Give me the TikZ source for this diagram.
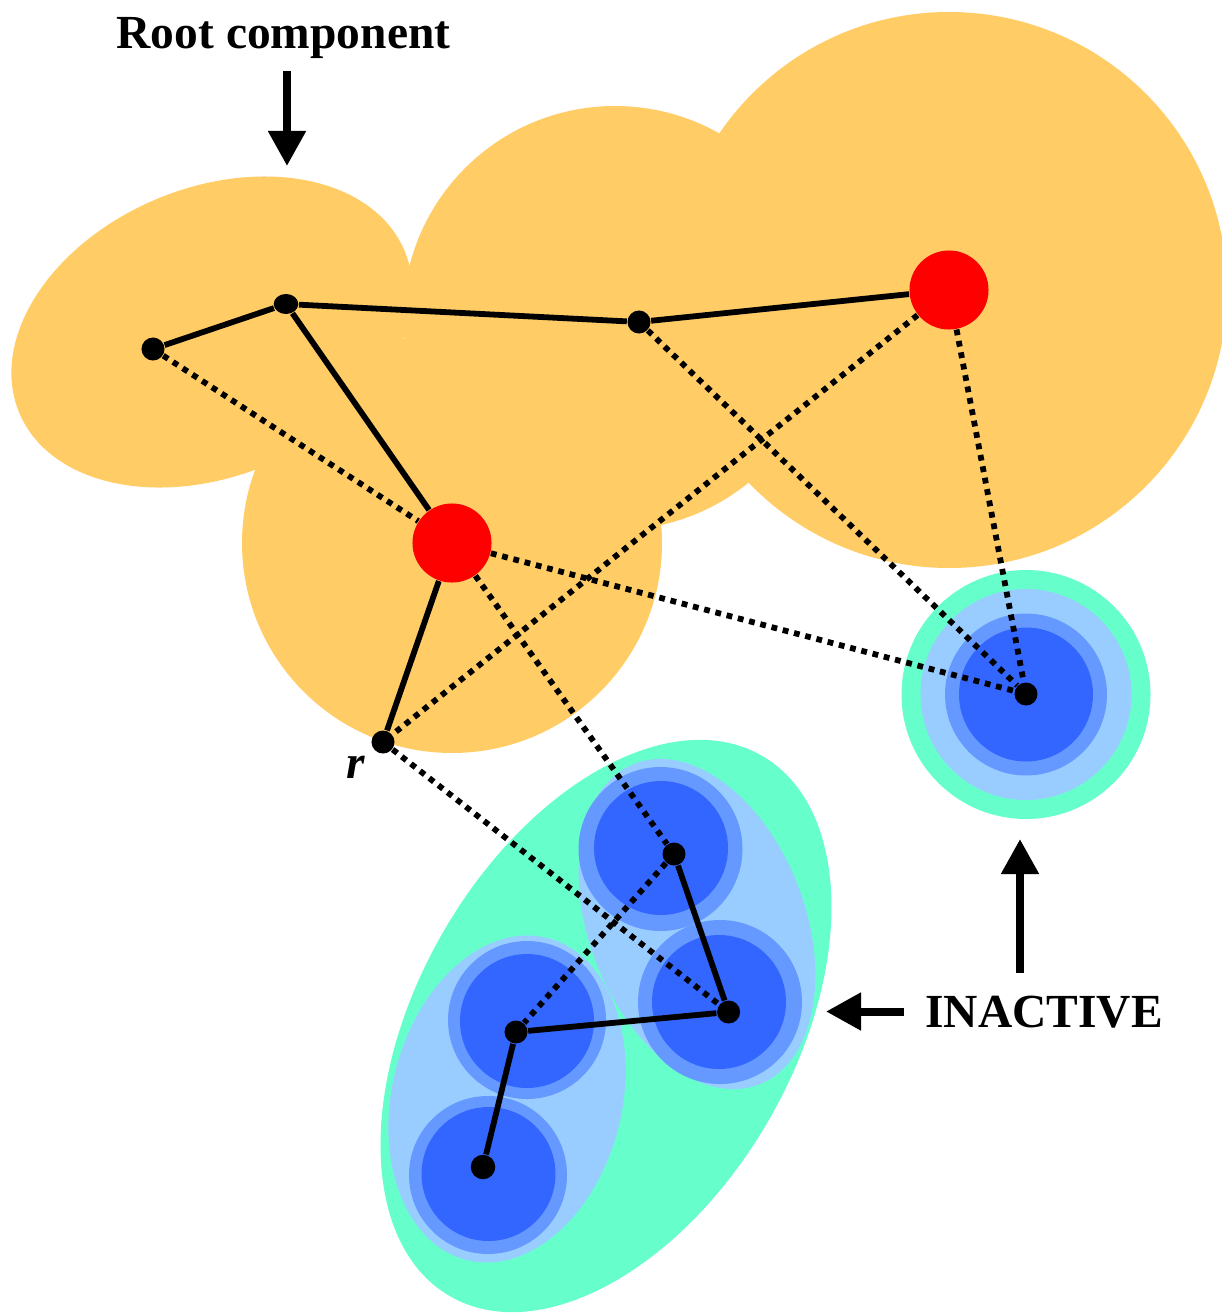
\documentclass[tikz,border=0pt]{standalone}
\usepackage{fontspec}
\setmainfont{Liberation Serif}
\usetikzlibrary{arrows.meta,shapes.geometric}
\definecolor{orangeC}{HTML}{FFCC66}
\definecolor{tealC}{HTML}{66FFCC}
\definecolor{lightB}{HTML}{99CCFF}
\definecolor{medB}{HTML}{6699FF}
\definecolor{darkB}{HTML}{3366FF}
\pgfdeclarelayer{bg}
\pgfdeclarelayer{edges}
\pgfsetlayers{bg,edges,main}
\begin{document}
\begin{tikzpicture}[x=0.01cm,y=0.01cm,
  dot/.style={circle,fill=black,inner sep=0pt,minimum size=0.23cm},
  rednode/.style={circle,fill=red,inner sep=0pt,minimum size=0.79cm},
  tree/.style={line width=0.058cm},
  link/.style={line width=0.058cm,dash pattern=on 0.058cm off 0.058cm},
  bigarrow/.style={line width=0.08cm,-{Triangle[width=0.36cm,length=0.35cm]}},
  lbl/.style={font=\fontsize{13.5pt}{16pt}\selectfont\bfseries,inner sep=0pt}
]
\useasboundingbox (0,0) rectangle (1222,-1315);

\begin{pgfonlayer}{bg}
% root component (orange)
\fill[orangeC, rotate around={22.8:(212,-332)}] (212,-332) ellipse [x radius=209, y radius=144];
\fill[orangeC] (615,-318) circle [radius=212];
\fill[orangeC] (949,-290) circle [radius=278];
\fill[orangeC] (452,-543) circle [radius=210];
% lower inactive cluster
\fill[tealC, rotate around={60:(606,-1026)}] (606,-1026) ellipse [x radius=312, y radius=188];
\fill[lightB, rotate around={-68.8:(697,-924)}] (697,-924) ellipse [x radius=172, y radius=108];
\fill[lightB, rotate around={76:(507,-1099)}] (507,-1099) ellipse [x radius=166, y radius=115];
\fill[medB] (660.5,-849) circle [radius=82];
\fill[darkB] (661,-848) circle [radius=67];
\fill[medB] (720,-1002) circle [radius=82];
\fill[darkB] (719,-1002) circle [radius=67];
\fill[medB] (527,-1020) circle [radius=79];
\fill[darkB] (527,-1021) circle [radius=67];
\fill[medB] (488,-1175) circle [radius=79];
\fill[darkB] (488.5,-1174) circle [radius=67];
% isolated inactive component
\fill[tealC] (1026,-694.5) circle [radius=124.5];
\fill[lightB] (1026,-694.5) circle [radius=105.5];
\fill[medB] (1026,-694.5) circle [radius=81];
\fill[darkB] (1026,-694.5) circle [radius=67];
\end{pgfonlayer}

% nodes
\node[dot] (n1) at (153,-349) {};
\node[ellipse,fill=black,inner sep=0pt,minimum width=0.245cm,minimum height=0.2cm] (n2) at (286,-304) {};
\node[dot] (n3) at (639,-322) {};
\node[rednode] (R1) at (949,-290) {};
\node[rednode] (R2) at (452,-543) {};
\node[dot] (r) at (383,-742) {};
\node[dot] (iso) at (1026,-694) {};
\node[dot] (a) at (674,-854) {};
\node[dot] (b) at (728.6,-1012) {};
\node[dot] (c) at (516,-1032) {};
\node[dot,minimum size=0.245cm] (d) at (483,-1167) {};

\begin{pgfonlayer}{edges}
\draw[tree] (n1)--(n2) (n2)--(n3) (n3)--(R1) (n2)--(R2) (R2)--(r)
            (a)--(b) (b)--(c) (c)--(d);
\draw[link] (n1)--(R2);
\draw[link] (R1)--(r);
\draw[link] (n3)--(iso);
\draw[link] (R1)--(iso);
\draw[link] (R2)--(iso);
\draw[link] (R2)--(a);
\draw[link] (r)--(b);
\draw[link] (a)--(c);
\end{pgfonlayer}

% labels
\node[lbl,anchor=base] (rootlbl) at (283.5,-48.5) {Root component};
\node[lbl,anchor=base] (inlbl) at (1044,-1027) {INACTIVE};
\node[lbl,anchor=base] (rlbl) at (356,-778) {\textit{r}};

% arrows
\coordinate (rootT) at (287,-71);
\coordinate (rootH) at (287,-166);
\coordinate (upT) at (1020,-973);
\coordinate (upH) at (1020,-839);
\coordinate (lfT) at (904,-1011.5);
\coordinate (lfH) at (826,-1011.5);
\draw[bigarrow] (rootT)--(rootH);
\draw[bigarrow] (upT)--(upH);
\draw[bigarrow] (lfT)--(lfH);
\end{tikzpicture}
\end{document}
